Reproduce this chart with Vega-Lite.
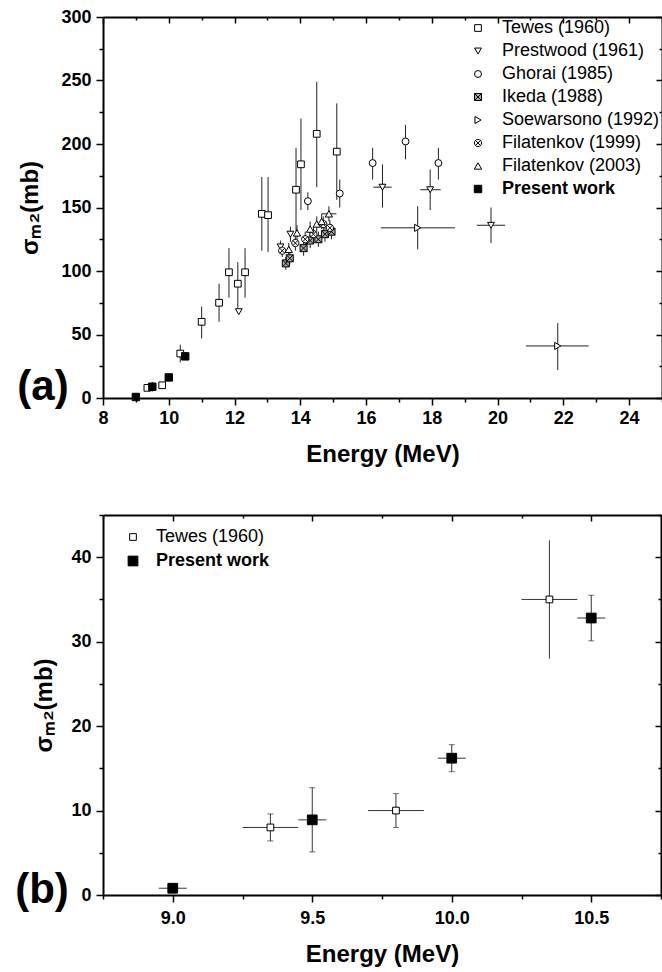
{
  "$schema": "https://vega.github.io/schema/vega-lite/v6.json",
  "padding": {"left": 15, "top": 8, "right": 2, "bottom": 2},
  "background": "white",
  "config": {
    "view": {"stroke": null},
    "font": "Liberation Sans",
    "axis": {
      "grid": false,
      "domainColor": "black",
      "domainWidth": 2,
      "tickColor": "black",
      "tickWidth": 1.5,
      "labelFont": "Liberation Sans",
      "labelFontWeight": "bold",
      "labelFontSize": 18,
      "labelColor": "black",
      "titleFont": "Liberation Sans",
      "titleFontWeight": "bold",
      "titleFontSize": 24,
      "titleColor": "black",
      "labelOverlap": false,
      "labelFlush": false
    },
    "legend": {
      "orient": "none", "direction": "vertical", "title": null,
      "labelFontSize": 18, "labelFont": "Liberation Sans", "labelColor": "black",
      "labelLimit": 400,
      "padding": 0, "symbolStrokeWidth": 1
    }
  },
  "datasets": {
    "pts": [
      {"series": "Tewes (1960)", "E": 9.35, "s": 8.0, "ylo": 6.4, "yhi": 9.6, "xlo": 9.25, "xhi": 9.45},
      {"series": "Tewes (1960)", "E": 9.8, "s": 10.0, "ylo": 8.0, "yhi": 12.0, "xlo": 9.7, "xhi": 9.9},
      {"series": "Tewes (1960)", "E": 10.35, "s": 35.0, "ylo": 28.0, "yhi": 42.0, "xlo": 10.25, "xhi": 10.45},
      {"series": "Tewes (1960)", "E": 11.0, "s": 60, "ylo": 47, "yhi": 72},
      {"series": "Tewes (1960)", "E": 11.53, "s": 75, "ylo": 60, "yhi": 90},
      {"series": "Tewes (1960)", "E": 11.83, "s": 99, "ylo": 79, "yhi": 118},
      {"series": "Tewes (1960)", "E": 12.1, "s": 90, "ylo": 71, "yhi": 107},
      {"series": "Tewes (1960)", "E": 12.32, "s": 99, "ylo": 79, "yhi": 118},
      {"series": "Tewes (1960)", "E": 12.83, "s": 145, "ylo": 116, "yhi": 174},
      {"series": "Tewes (1960)", "E": 13.02, "s": 144, "ylo": 115, "yhi": 174},
      {"series": "Tewes (1960)", "E": 13.87, "s": 164, "ylo": 131, "yhi": 197},
      {"series": "Tewes (1960)", "E": 14.02, "s": 184, "ylo": 148, "yhi": 220},
      {"series": "Tewes (1960)", "E": 14.5, "s": 208, "ylo": 166, "yhi": 249},
      {"series": "Tewes (1960)", "E": 15.11, "s": 194, "ylo": 156, "yhi": 232},
      {"series": "Prestwood (1961)", "E": 12.13, "s": 68},
      {"series": "Prestwood (1961)", "E": 13.4, "s": 119, "ylo": 114, "yhi": 124},
      {"series": "Prestwood (1961)", "E": 13.7, "s": 129, "ylo": 123, "yhi": 135},
      {"series": "Prestwood (1961)", "E": 16.5, "s": 166, "ylo": 150, "yhi": 184, "xlo": 16.22, "xhi": 16.78},
      {"series": "Prestwood (1961)", "E": 17.95, "s": 164, "ylo": 148, "yhi": 180, "xlo": 17.65, "xhi": 18.27},
      {"series": "Prestwood (1961)", "E": 19.8, "s": 136, "ylo": 122, "yhi": 150, "xlo": 19.37, "xhi": 20.23},
      {"series": "Ghorai (1985)", "E": 14.23, "s": 155, "ylo": 148, "yhi": 162},
      {"series": "Ghorai (1985)", "E": 15.2, "s": 161, "ylo": 150, "yhi": 172},
      {"series": "Ghorai (1985)", "E": 16.2, "s": 185, "ylo": 172, "yhi": 197},
      {"series": "Ghorai (1985)", "E": 17.2, "s": 202, "ylo": 188, "yhi": 215},
      {"series": "Ghorai (1985)", "E": 18.2, "s": 185, "ylo": 172, "yhi": 197},
      {"series": "Ikeda (1988)", "E": 13.56, "s": 106, "ylo": 101, "yhi": 111},
      {"series": "Ikeda (1988)", "E": 13.68, "s": 110, "ylo": 105, "yhi": 115},
      {"series": "Ikeda (1988)", "E": 14.1, "s": 118, "ylo": 112, "yhi": 124},
      {"series": "Ikeda (1988)", "E": 14.3, "s": 124, "ylo": 118, "yhi": 130},
      {"series": "Ikeda (1988)", "E": 14.55, "s": 125, "ylo": 119, "yhi": 131},
      {"series": "Ikeda (1988)", "E": 14.75, "s": 129, "ylo": 123, "yhi": 135},
      {"series": "Ikeda (1988)", "E": 14.95, "s": 131, "ylo": 125, "yhi": 137},
      {"series": "Soewarsono (1992)", "E": 17.57, "s": 134, "ylo": 117, "yhi": 151, "xlo": 16.45, "xhi": 18.7},
      {"series": "Soewarsono (1992)", "E": 21.83, "s": 41, "ylo": 22, "yhi": 59, "xlo": 20.86, "xhi": 22.77},
      {"series": "Filatenkov (1999)", "E": 13.45, "s": 116, "ylo": 111, "yhi": 121},
      {"series": "Filatenkov (1999)", "E": 13.85, "s": 122, "ylo": 116, "yhi": 128},
      {"series": "Filatenkov (1999)", "E": 14.15, "s": 125, "ylo": 119, "yhi": 131},
      {"series": "Filatenkov (1999)", "E": 14.4, "s": 129, "ylo": 123, "yhi": 135},
      {"series": "Filatenkov (1999)", "E": 14.7, "s": 137, "ylo": 131, "yhi": 143},
      {"series": "Filatenkov (1999)", "E": 14.9, "s": 134, "ylo": 128, "yhi": 140},
      {"series": "Filatenkov (2003)", "E": 13.65, "s": 117, "ylo": 112, "yhi": 122},
      {"series": "Filatenkov (2003)", "E": 13.9, "s": 130, "ylo": 124, "yhi": 136},
      {"series": "Filatenkov (2003)", "E": 14.3, "s": 133, "ylo": 127, "yhi": 139},
      {"series": "Filatenkov (2003)", "E": 14.5, "s": 137, "ylo": 131, "yhi": 143},
      {"series": "Filatenkov (2003)", "E": 14.65, "s": 139, "ylo": 133, "yhi": 145},
      {"series": "Filatenkov (2003)", "E": 14.87, "s": 145, "ylo": 139, "yhi": 151, "xlo": 14.65, "xhi": 15.1},
      {"series": "Present work", "E": 9.0, "s": 0.8, "xlo": 8.95, "xhi": 9.05},
      {"series": "Present work", "E": 9.5, "s": 8.9, "ylo": 5.1, "yhi": 12.7, "xlo": 9.45, "xhi": 9.55},
      {"series": "Present work", "E": 10.0, "s": 16.2, "ylo": 14.6, "yhi": 17.8, "xlo": 9.95, "xhi": 10.05},
      {"series": "Present work", "E": 10.5, "s": 32.8, "ylo": 30.1, "yhi": 35.5, "xlo": 10.45, "xhi": 10.55}
    ]
  },
  "spacing": 40,
  "resolve": {
    "scale": {"shape": "independent", "fill": "independent", "size": "independent", "stroke": "independent"},
    "legend": {"shape": "independent", "fill": "independent", "size": "independent", "stroke": "independent"}
  },
  "vconcat": [
    {
      "width": 559,
      "height": 381,
      "data": {"name": "pts"},
      "resolve": {"axis": {"x": "independent", "y": "independent"}},
      "layer": [
        {
          "transform": [{"filter": "isValid(datum.ylo)"}],
          "mark": {"type": "rule", "color": "#222", "strokeWidth": 1},
          "encoding": {
            "x": {"field": "E", "type": "quantitative", "scale": {"domain": [8, 25], "nice": false}, "axis": null},
            "y": {"field": "ylo", "type": "quantitative", "scale": {"domain": [0, 300], "nice": false}, "axis": null},
            "y2": {"field": "yhi"}
          }
        },
        {
          "transform": [{"filter": "isValid(datum.xlo)"}],
          "mark": {"type": "rule", "color": "#222", "strokeWidth": 1},
          "encoding": {
            "x": {"field": "xlo", "type": "quantitative", "scale": {"domain": [8, 25], "nice": false}, "axis": null},
            "x2": {"field": "xhi"},
            "y": {"field": "s", "type": "quantitative", "scale": {"domain": [0, 300], "nice": false}, "axis": null}
          }
        },
        {
          "mark": {"type": "point", "filled": true, "strokeWidth": 1, "opacity": 1},
          "encoding": {
            "x": {
              "field": "E", "type": "quantitative",
              "scale": {"domain": [8, 25], "nice": false},
              "axis": {
                "orient": "bottom",
                "values": [8, 9, 10, 11, 12, 13, 14, 15, 16, 17, 18, 19, 20, 21, 22, 23, 24, 25],
                "format": "d",
                "labelExpr": "datum.value % 2 == 0 ? datum.label : ''",
                "tickSize": {"condition": {"test": "datum.value % 2 == 0", "value": 7}, "value": 4},
                "labelPadding": 4,
                "title": "Energy (MeV)",
                "titlePadding": 15
              }
            },
            "y": {
              "field": "s", "type": "quantitative",
              "scale": {"domain": [0, 300], "nice": false},
              "axis": {
                "orient": "left",
                "values": [0, 25, 50, 75, 100, 125, 150, 175, 200, 225, 250, 275, 300],
                "format": "d",
                "labelExpr": "datum.value % 50 == 0 ? datum.label : ''",
                "tickSize": {"condition": {"test": "datum.value % 50 == 0", "value": 7}, "value": 4},
                "labelPadding": 5,
                "title": "σₘ₂(mb)",
                "titlePadding": 18
              }
            },
            "shape": {
              "field": "series", "type": "nominal",
              "scale": {
                "domain": ["Tewes (1960)", "Prestwood (1961)", "Ghorai (1985)", "Ikeda (1988)", "Soewarsono (1992)", "Filatenkov (1999)", "Filatenkov (2003)", "Present work"],
                "range": ["square", "triangle-down", "circle", "M-1,-1L1,-1L1,1L-1,1Z M-1,-1L1,1 M-1,1L1,-1", "triangle-right", "M1,0A1,1,0,1,1,-1,0A1,1,0,1,1,1,0Z M-0.7071,-0.7071L0.7071,0.7071 M-0.7071,0.7071L0.7071,-0.7071", "triangle-up", "square"]
              },
              "legend": {
                "legendX": 366, "legendY": 2,
                "labelFontWeight": {"expr": "datum.label == 'Present work' ? 'bold' : 'normal'"},
                "labelOffset": 15, "rowPadding": 5
              }
            },
            "fill": {
              "field": "series", "type": "nominal",
              "scale": {
                "domain": ["Tewes (1960)", "Prestwood (1961)", "Ghorai (1985)", "Ikeda (1988)", "Soewarsono (1992)", "Filatenkov (1999)", "Filatenkov (2003)", "Present work"],
                "range": ["white", "white", "white", "#aaaaaa", "white", "white", "white", "black"]
              },
              "legend": {
                "legendX": 366, "legendY": 2,
                "labelFontWeight": {"expr": "datum.label == 'Present work' ? 'bold' : 'normal'"},
                "labelOffset": 15, "rowPadding": 5
              }
            },
            "stroke": {
              "field": "series", "type": "nominal",
              "scale": {
                "domain": ["Tewes (1960)", "Prestwood (1961)", "Ghorai (1985)", "Ikeda (1988)", "Soewarsono (1992)", "Filatenkov (1999)", "Filatenkov (2003)", "Present work"],
                "range": ["black", "black", "black", "black", "black", "black", "black", "black"]
              },
              "legend": {
                "legendX": 366, "legendY": 2,
                "labelFontWeight": {"expr": "datum.label == 'Present work' ? 'bold' : 'normal'"},
                "labelOffset": 15, "rowPadding": 5
              }
            },
            "size": {
              "field": "series", "type": "nominal",
              "scale": {
                "domain": ["Tewes (1960)", "Prestwood (1961)", "Ghorai (1985)", "Ikeda (1988)", "Soewarsono (1992)", "Filatenkov (1999)", "Filatenkov (2003)", "Present work"],
                "range": [45, 55, 40, 40, 45, 45, 55, 80]
              },
              "legend": {
                "legendX": 366, "legendY": 2,
                "labelFontWeight": {"expr": "datum.label == 'Present work' ? 'bold' : 'normal'"},
                "labelOffset": 15, "rowPadding": 5
              }
            }
          }
        },
        {
          "data": {"values": [{"t": "(a)", "E": 8, "s": 0}]},
          "mark": {"type": "text", "fontSize": 42, "fontWeight": "bold", "font": "Liberation Sans", "align": "center", "baseline": "alphabetic", "dx": -60, "dy": 2, "color": "black"},
          "encoding": {
            "x": {"field": "E", "type": "quantitative", "scale": {"domain": [8, 25], "nice": false}, "axis": null},
            "y": {"field": "s", "type": "quantitative", "scale": {"domain": [0, 300], "nice": false}, "axis": null},
            "text": {"field": "t"}
          }
        },
        {
          "mark": {"type": "point", "opacity": 0},
          "encoding": {
            "x": {
              "field": "E", "type": "quantitative",
              "scale": {"domain": [8, 25], "nice": false},
              "axis": {
                "orient": "top", "labels": false, "title": null,
                "values": [8, 9, 10, 11, 12, 13, 14, 15, 16, 17, 18, 19, 20, 21, 22, 23, 24, 25],
                "tickSize": {"condition": {"test": "datum.value % 2 == 0", "value": -6}, "value": -3}
              }
            },
            "y": {
              "field": "s", "type": "quantitative",
              "scale": {"domain": [0, 300], "nice": false},
              "axis": {
                "orient": "right", "labels": false, "title": null,
                "values": [0, 25, 50, 75, 100, 125, 150, 175, 200, 225, 250, 275, 300],
                "tickSize": {"condition": {"test": "datum.value % 50 == 0", "value": -6}, "value": -3}
              }
            }
          }
        }
      ]
    },
    {
      "width": 558,
      "height": 380,
      "data": {"name": "pts"},
      "transform": [{"filter": "datum.E <= 10.75 && (datum.series == 'Tewes (1960)' || datum.series == 'Present work')"}],
      "resolve": {"axis": {"x": "independent", "y": "independent"}},
      "layer": [
        {
          "transform": [{"filter": "isValid(datum.ylo)"}],
          "mark": {"type": "rule", "color": "#333", "strokeWidth": 1},
          "encoding": {
            "x": {"field": "E", "type": "quantitative", "scale": {"domain": [8.75, 10.75], "nice": false}, "axis": null},
            "y": {"field": "ylo", "type": "quantitative", "scale": {"domain": [0, 45], "nice": false}, "axis": null},
            "y2": {"field": "yhi"}
          }
        },
        {
          "transform": [{"filter": "isValid(datum.ylo) && datum.E != 10.35"}, {"fold": ["ylo", "yhi"], "as": ["k", "v"]}],
          "mark": {"type": "tick", "orient": "horizontal", "color": "#333", "size": 6, "thickness": 1},
          "encoding": {
            "x": {"field": "E", "type": "quantitative", "scale": {"domain": [8.75, 10.75], "nice": false}, "axis": null},
            "y": {"field": "v", "type": "quantitative", "scale": {"domain": [0, 45], "nice": false}, "axis": null}
          }
        },
        {
          "transform": [{"filter": "isValid(datum.xlo)"}],
          "mark": {"type": "rule", "color": "#333", "strokeWidth": 1},
          "encoding": {
            "x": {"field": "xlo", "type": "quantitative", "scale": {"domain": [8.75, 10.75], "nice": false}, "axis": null},
            "x2": {"field": "xhi"},
            "y": {"field": "s", "type": "quantitative", "scale": {"domain": [0, 45], "nice": false}, "axis": null}
          }
        },
        {
          "mark": {"type": "point", "filled": true, "strokeWidth": 1, "opacity": 1},
          "encoding": {
            "x": {
              "field": "E", "type": "quantitative",
              "scale": {"domain": [8.75, 10.75], "nice": false},
              "axis": {
                "orient": "bottom",
                "values": [8.75, 9, 9.25, 9.5, 9.75, 10, 10.25, 10.5, 10.75],
                "format": ".1f",
                "labelExpr": "(datum.value * 2) % 1 == 0 ? datum.label : ''",
                "tickSize": {"condition": {"test": "(datum.value * 2) % 1 == 0", "value": 7}, "value": 4},
                "labelPadding": 7,
                "title": "Energy (MeV)",
                "titlePadding": 15
              }
            },
            "y": {
              "field": "s", "type": "quantitative",
              "scale": {"domain": [0, 45], "nice": false},
              "axis": {
                "orient": "left",
                "values": [0, 5, 10, 15, 20, 25, 30, 35, 40, 45],
                "format": "d",
                "labelExpr": "datum.value % 10 == 0 ? datum.label : ''",
                "tickSize": {"condition": {"test": "datum.value % 10 == 0", "value": 7}, "value": 4},
                "labelPadding": 5,
                "title": "σₘ₂(mb)",
                "titlePadding": 14
              }
            },
            "shape": {
              "field": "series", "type": "nominal",
              "scale": {"domain": ["Tewes (1960)", "Present work"], "range": ["square", "square"]},
              "legend": {
                "legendX": 21, "legendY": 13,
                "labelFontWeight": {"expr": "datum.label == 'Present work' ? 'bold' : 'normal'"},
                "labelOffset": 14, "rowPadding": 6
              }
            },
            "fill": {
              "field": "series", "type": "nominal",
              "scale": {"domain": ["Tewes (1960)", "Present work"], "range": ["white", "black"]},
              "legend": {
                "legendX": 21, "legendY": 13,
                "labelFontWeight": {"expr": "datum.label == 'Present work' ? 'bold' : 'normal'"},
                "labelOffset": 14, "rowPadding": 6
              }
            },
            "stroke": {
              "field": "series", "type": "nominal",
              "scale": {"domain": ["Tewes (1960)", "Present work"], "range": ["black", "black"]},
              "legend": {
                "legendX": 21, "legendY": 13,
                "labelFontWeight": {"expr": "datum.label == 'Present work' ? 'bold' : 'normal'"},
                "labelOffset": 14, "rowPadding": 6
              }
            },
            "size": {
              "field": "series", "type": "nominal",
              "scale": {"domain": ["Tewes (1960)", "Present work"], "range": [45, 95]},
              "legend": {
                "legendX": 21, "legendY": 13,
                "labelFontWeight": {"expr": "datum.label == 'Present work' ? 'bold' : 'normal'"},
                "labelOffset": 14, "rowPadding": 6
              }
            }
          }
        },
        {
          "data": {"values": [{"t": "(b)", "E": 8.75, "s": 0}]},
          "mark": {"type": "text", "fontSize": 42, "fontWeight": "bold", "font": "Liberation Sans", "align": "center", "baseline": "alphabetic", "dx": -61, "dy": 8, "color": "black"},
          "encoding": {
            "x": {"field": "E", "type": "quantitative", "scale": {"domain": [8.75, 10.75], "nice": false}, "axis": null},
            "y": {"field": "s", "type": "quantitative", "scale": {"domain": [0, 45], "nice": false}, "axis": null},
            "text": {"field": "t"}
          }
        },
        {
          "mark": {"type": "point", "opacity": 0},
          "encoding": {
            "x": {
              "field": "E", "type": "quantitative",
              "scale": {"domain": [8.75, 10.75], "nice": false},
              "axis": {
                "orient": "top", "labels": false, "title": null,
                "values": [8.75, 9, 9.25, 9.5, 9.75, 10, 10.25, 10.5, 10.75],
                "tickSize": {"condition": {"test": "(datum.value * 2) % 1 == 0", "value": -6}, "value": -3}
              }
            },
            "y": {
              "field": "s", "type": "quantitative",
              "scale": {"domain": [0, 45], "nice": false},
              "axis": {
                "orient": "right", "labels": false, "title": null,
                "values": [0, 5, 10, 15, 20, 25, 30, 35, 40, 45],
                "tickSize": {"condition": {"test": "datum.value % 10 == 0", "value": -6}, "value": -3}
              }
            }
          }
        }
      ]
    }
  ]
}
